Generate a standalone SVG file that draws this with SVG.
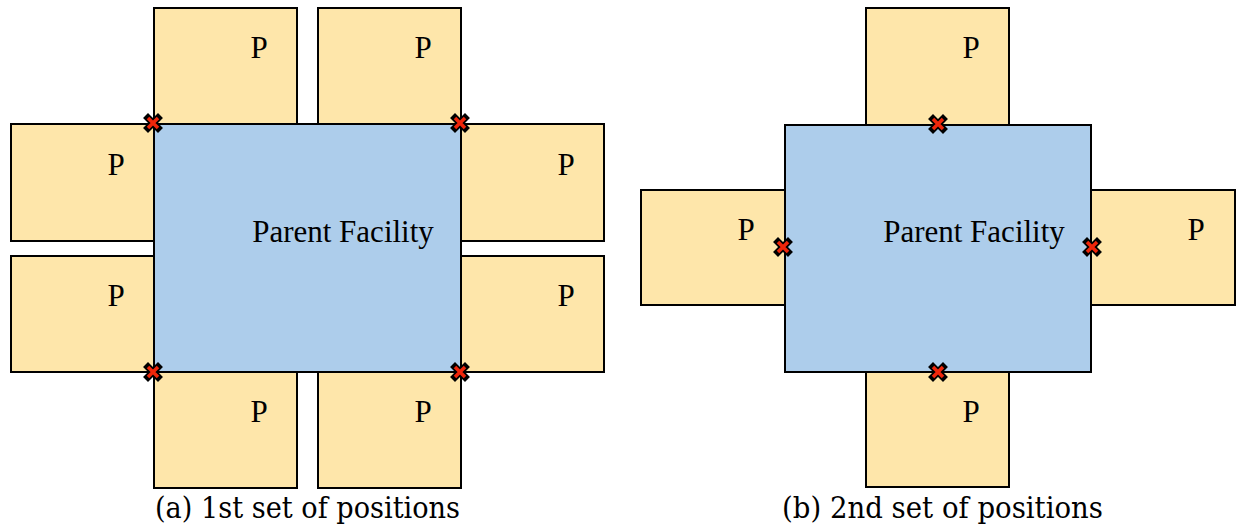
<svg xmlns="http://www.w3.org/2000/svg" width="1236" height="527" viewBox="0 0 1236 527">
<style>
.p{fill:#FEE6AA;stroke:#000;stroke-width:2}
.f{fill:#ADCDEB;stroke:#000;stroke-width:2}
.t{font-family:"Liberation Serif","Times New Roman",serif;font-size:31px;fill:#000;text-anchor:middle}
.c{font-family:"DejaVu Serif","Liberation Serif",serif;font-size:29px;fill:#000}
</style>
<defs>
<g id="x">
<path d="M-5,-5L5,5M5,-5L-5,5" stroke="#000" stroke-width="7" stroke-linecap="square"/>
<path d="M-5,-5L5,5M5,-5L-5,5" stroke="#F0260A" stroke-width="3.5" stroke-linecap="butt"/>
</g>
</defs>
<g id="diagram-a">
<g id="a-parent"><rect class="f" x="154" y="124" width="307" height="248"/><text class="t" x="343" y="242">Parent Facility</text></g>
<g id="a-top1"><rect class="p" x="154" y="8" width="143" height="116"/><text class="t" x="259" y="58">P</text></g>
<g id="a-top2"><rect class="p" x="318" y="8" width="143" height="116"/><text class="t" x="423" y="58">P</text></g>
<g id="a-left1"><rect class="p" x="11" y="124" width="143" height="117"/><text class="t" x="116" y="175">P</text></g>
<g id="a-left2"><rect class="p" x="11" y="256" width="143" height="116"/><text class="t" x="116" y="306">P</text></g>
<g id="a-right1"><rect class="p" x="461" y="124" width="143" height="117"/><text class="t" x="566" y="175">P</text></g>
<g id="a-right2"><rect class="p" x="461" y="256" width="143" height="116"/><text class="t" x="566" y="306">P</text></g>
<g id="a-bot1"><rect class="p" x="154" y="372" width="143" height="116"/><text class="t" x="259" y="422">P</text></g>
<g id="a-bot2"><rect class="p" x="318" y="372" width="143" height="116"/><text class="t" x="423" y="422">P</text></g>
<g id="a-marks">
<use href="#x" x="153" y="123"/><use href="#x" x="460" y="123"/>
<use href="#x" x="153" y="372"/><use href="#x" x="460" y="372"/>
</g>
<text class="c" x="155" y="518" textLength="305" lengthAdjust="spacingAndGlyphs">(a) 1st set of positions</text>
</g>
<g id="diagram-b">
<g id="b-parent"><rect class="f" x="785" y="125" width="306" height="247"/><text class="t" x="974" y="242">Parent Facility</text></g>
<g id="b-top"><rect class="p" x="866" y="8" width="143" height="117"/><text class="t" x="971" y="58">P</text></g>
<g id="b-left"><rect class="p" x="641" y="190" width="144" height="115"/><text class="t" x="746" y="240">P</text></g>
<g id="b-right"><rect class="p" x="1091" y="190" width="144" height="115"/><text class="t" x="1196" y="240">P</text></g>
<g id="b-bot"><rect class="p" x="866" y="372" width="143" height="115"/><text class="t" x="971" y="422">P</text></g>
<g id="b-marks">
<use href="#x" x="938" y="124"/><use href="#x" x="783" y="247"/>
<use href="#x" x="1092" y="247"/><use href="#x" x="938" y="372"/>
</g>
<text class="c" x="782" y="518" textLength="321" lengthAdjust="spacingAndGlyphs">(b) 2nd set of positions</text>
</g>
</svg>
